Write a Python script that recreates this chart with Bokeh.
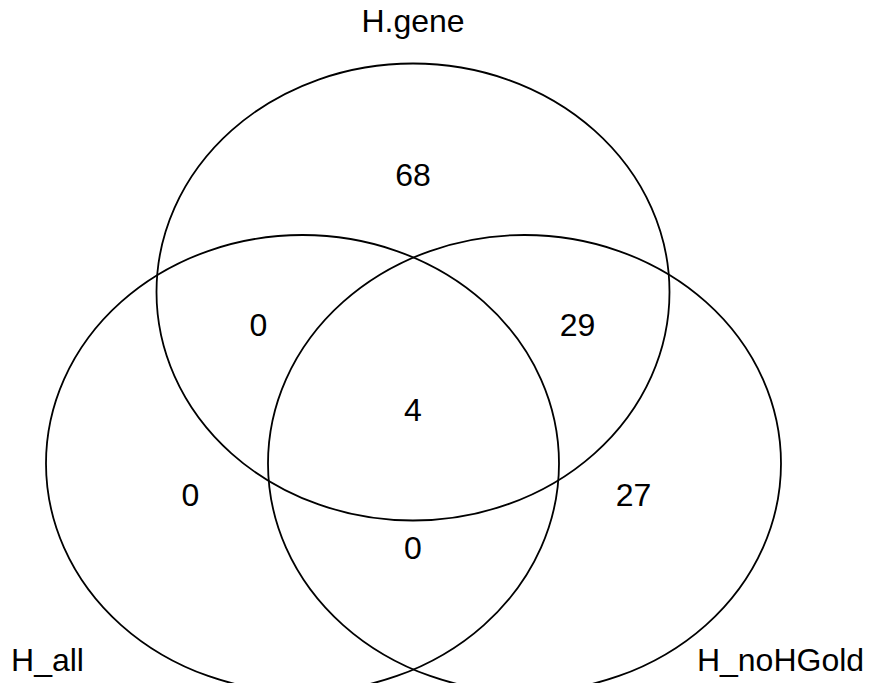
from bokeh.plotting import figure
from bokeh.models import Range1d
from bokeh.core.properties import value
from bokeh.embed import file_html
from bokeh.resources import INLINE

# Venn data
set_names = ["H.gene", "H_all", "H_noHGold"]
region_labels = ["68", "0", "29", "4", "0", "27", "0"]  # gene only, gene&all, gene&noHGold, all three, all only, noHGold only, all&noHGold

# layout (screen-like coordinates, y up)
ell_x = [412.5, 302, 524]
ell_y = [399.5, 228, 228]
ell_w = [513, 513, 513]
ell_h = [457, 457, 457]

reg_x = [412.5, 258, 577, 412.5, 190, 633, 412.5]
reg_y = [517, 367, 367, 282, 197, 197, 144]

name_x = [412.5, 47, 780]
name_y = [671, 32, 32]

p = figure(width=865, height=683, output_backend="svg", toolbar_location=None,
           x_range=Range1d(0, 865), y_range=Range1d(8, 691), min_border=0)
p.axis.visible = False
p.grid.visible = False
p.outline_line_color = None
p.background_fill_color = "white"
p.border_fill_color = "white"

p.ellipse(x=ell_x, y=ell_y, width=ell_w, height=ell_h, fill_color=None,
          line_color="black", line_width=1.8)

p.text(x=reg_x, y=reg_y, text=region_labels, text_align="center",
       text_baseline="alphabetic", text_font=value("Liberation Sans"),
       text_font_size="32px", text_color="black")

p.text(x=name_x, y=name_y, text=set_names, text_align="center",
       text_baseline="alphabetic", text_font=value("Liberation Sans"),
       text_font_size="32px", text_color="black")

open("out.html", "w").write(file_html(p, INLINE))
